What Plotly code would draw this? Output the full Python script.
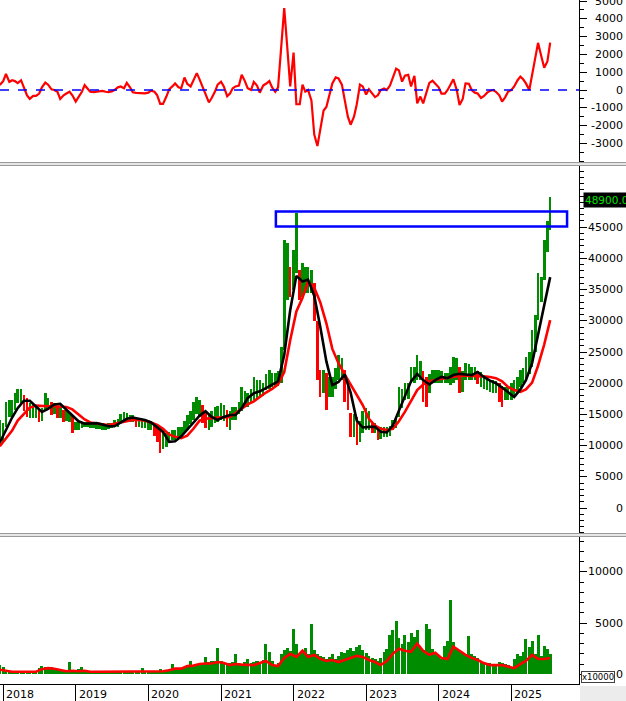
import pandas as pd
import plotly.graph_objects as go

# ---------------- data ----------------
dates = pd.date_range("2017-12-15", "2025-07-15", freq="SMS")   # semi-monthly samples
ma_dates = dates[::2]                                             # monthly samples

price_high = [
    14100, 13600, 17000, 17300, 17300, 18400, 19100, 19000, 18100, 17600,
    16800, 16800, 16300, 15700, 16000, 18400, 17600, 17000, 16800, 16200,
    16200, 15700, 15700, 15200, 14900, 13800, 13800, 13800, 13800, 13800,
    13800, 13600, 13600, 13600, 13600, 13400, 13600, 13600, 14100, 14300,
    15000, 15400, 15200, 14900, 14900, 14400, 14300, 14100, 14100, 13800,
    13800, 13600, 13000, 12500, 12000, 12000, 12200, 12500, 12500, 13000,
    13000, 14000, 14900, 15500, 17000, 17800, 17300, 16500, 15200, 15000,
    15500, 16200, 16300, 16800, 16500, 15700, 15500, 16200, 16200, 17000,
    19400, 18800, 18400, 19000, 21000, 20500, 20500, 20000, 21500, 22100,
    21600, 21600, 22000, 25800, 43000, 42500, 38600, 41400, 47300, 38200,
    39300, 38600, 38600, 38200, 36000, 30000, 22100, 22100, 21600, 21000,
    21000, 22500, 24500, 24000, 22100, 20000, 15200, 15000, 14600, 14000,
    15500, 16000, 15500, 13600, 13600, 13000, 13000, 13000, 13000, 13200,
    14100, 14500, 19400, 19000, 20000, 20000, 22600, 22600, 24500, 23500,
    22000, 21000, 21500, 22100, 22100, 22100, 22000, 21600, 21600, 22600,
    24200, 24000, 22600, 22000, 23200, 23000, 22600, 22600, 22000, 21800,
    21000, 21000, 20500, 20500, 20300, 20000, 19500, 19400, 19400, 20000,
    20500, 21000, 22100, 22500, 24200, 25000, 28500, 31000, 37700, 37000,
    43000, 46000, 49900,
]
price_low = [
    10100, 10400, 13000, 14600, 14600, 15700, 16800, 16800, 15500, 14600,
    14500, 14400, 14400, 13800, 14000, 15700, 15700, 14900, 15000, 14400,
    14400, 13800, 13900, 13800, 12000, 12500, 12500, 12800, 13000, 13000,
    12800, 12800, 12600, 12600, 12500, 12500, 12600, 12800, 13000, 13000,
    13800, 14000, 13800, 13800, 13800, 13000, 13000, 12800, 12800, 12500,
    12500, 11500, 10500, 8800, 9500, 9800, 10500, 10900, 10900, 11400,
    11400, 12000, 12500, 13500, 14100, 15000, 14600, 13600, 12800, 12500,
    13000, 13600, 13800, 14100, 14000, 13000, 12500, 14100, 14100, 15000,
    15500, 16200, 16200, 16800, 17300, 17500, 17800, 18000, 18900, 19000,
    19400, 19500, 19600, 20000, 25300, 33300, 33800, 34900, 37700, 33300,
    33800, 34500, 34500, 34500, 30000, 20500, 17800, 18400, 15700, 17800,
    17800, 19000, 20500, 20500, 17000, 15700, 11400, 11400, 10100, 10500,
    12000, 12500, 12500, 12000, 12000, 10900, 11000, 11400, 11400, 11600,
    12500, 12800, 14600, 16000, 17300, 17500, 20000, 20000, 20500, 20500,
    17000, 16200, 18500, 20000, 20000, 20000, 20000, 20000, 20000, 19700,
    20000, 20500, 18400, 18600, 20500, 20500, 20500, 20500, 19800, 19400,
    19000, 18900, 18600, 18400, 18400, 17000, 16200, 17300, 17300, 17300,
    17800, 18500, 19400, 20000, 20500, 21500, 22600, 25000, 30100, 33000,
    36500, 41000, 44500,
]
ma_fast = [  # black line
    10500, 12500, 14500, 16000, 17200, 17200, 16200, 15400, 15900, 16600,
    16700, 15800, 14800, 13900, 13500, 13500, 13600, 13400, 13100, 13100,
    13700, 14300, 14500, 14300, 14100, 13700, 13000, 12200, 10600, 10700,
    11500, 12600, 13600, 14800, 15500, 14600, 14100, 14600, 14900, 14900,
    16000, 17600, 18400, 18700, 19200, 19700, 20300, 24500, 31700, 37200,
    36300, 36600, 34000, 29100, 23500, 19700, 20200, 21400, 18500, 14000,
    12900, 13000, 13000, 12200, 12100, 13200, 15500, 18000, 20300, 21500,
    20500, 19800, 20500, 21000, 20800, 21300, 21500, 21400, 21300, 21800,
    21000, 20400, 20000, 19300, 18600, 17800, 19000, 20500, 23200, 27500,
    32500, 37000,
]
ma_slow = [  # red line
    9900, 11200, 12400, 14000, 15000, 16100, 16400, 16300, 16300, 16300,
    16300, 16200, 15800, 15000, 14200, 13700, 13500, 13400, 13300, 13500,
    13700, 14000, 14100, 14100, 14000, 13700, 13300, 12700, 11800, 11400,
    11200, 11600, 12700, 14000, 14300, 14400, 14500, 14500, 14600, 15200,
    15900, 16600, 17100, 17800, 18500, 19100, 19800, 21800, 26900, 31500,
    33700, 36300, 35300, 33000, 29600, 25500, 23200, 21400, 19800, 18200,
    16500, 14300, 13200, 12700, 12500, 12700, 13900, 15400, 17100, 18900,
    19800, 20300, 20500, 20700, 20900, 21000, 21200, 21200, 21200, 21200,
    21100, 21000, 20800, 20300, 19400, 18900, 18600, 19000, 20100, 22800,
    26200, 30100,
]
oscillator = [
    280, 500, 900, 450, 550, 500, 390, 550, 150, -300,
    -500, -330, -330, -200, 150, 420, 300, 40, 0, -100,
    -500, -300, -200, -100, -300, -650, -400, -100, 270, 50,
    -100, -120, -100, -60, -50, -100, -120, -80, 0, 150,
    200, 100, 400, 150, -130, -160, -180, -200, -190, -150,
    -40, -100, -300, -780, -780, -370, 40, 200, 370, 150,
    100, 700, 350, 200, 500, 950, 600, 150, -300, -700,
    -450, -100, 300, 470, 200, -350, -200, 100, 200, 250,
    850, 500, 100, 0, 450, 250, -150, 250, 350, 500,
    150, -100, 150, 2800, 4600, 2300, 200, 2100, -800, -800,
    300, -90, 0, -600, -2500, -3150, -2340, -1150, -950, -300,
    370, 710, 650, 300, -600, -1500, -1950, -1500, -800, 300,
    200, -250, 40, -200, -400, -300, 0, 90, 0, 250,
    700, 1200, 1100, 470, 800, 850, 200, 790, -750, -370,
    -750, -100, 400, 520, 350, 150, -200, -200, 0, 300,
    600, 0, -840, -500, 370, 350, 0, -150, -200, -450,
    -350, -150, -50, 0, -100, -300, -650, -400, -100, 0,
    200, 550, 750, 600, 370, 0, 900, 1700, 2650, 1870,
    1250, 1600, 2660,
]
volume = [  # x10000
    900, 700, 400, 300, 250, 250, 250, 250, 250, 250,
    250, 250, 250, 600, 800, 700, 650, 700, 600, 500,
    350, 300, 300, 1230, 350, 300, 500, 740, 400, 350,
    300, 250, 250, 250, 250, 250, 250, 250, 250, 250,
    250, 250, 250, 250, 250, 250, 250, 650, 250, 250,
    250, 250, 250, 500, 350, 400, 500, 1000, 500, 600,
    500, 700, 800, 1300, 900, 1000, 1100, 1000, 1700, 1200,
    1300, 1300, 2600, 1300, 1100, 1000, 1100, 1200, 2000, 1100,
    1000, 1200, 1500, 1100, 1200, 1300, 1000, 1400, 2950, 2200,
    1300, 900, 1100, 2000, 2400, 2600, 2300, 4400, 3000, 2000,
    2300, 2600, 2000, 4900, 2400, 2000, 1800, 1700, 1500, 1700,
    2000, 1500, 1800, 2200, 2100, 2400, 2600, 2300, 2700, 2900,
    2400, 2100, 1800, 1600, 1500, 1300, 1600, 2200, 2500, 3800,
    4300, 5200, 3500, 3000, 3800, 3200, 4000, 3600, 4300, 2600,
    2400, 4900, 4400, 2500, 2000, 1800, 1500, 2800, 3300, 7260,
    3200, 2600, 2300, 2200, 2000, 3700, 2000, 1800, 1600, 1200,
    1000, 900, 1100, 1000, 900, 1200, 1100, 1000, 900, 700,
    1500, 2000, 1800, 2200, 3400, 2700, 3300, 2000, 3800, 1800,
    2800, 2500, 2000,
]
volume_ma = [
    450, 350, 250, 250, 250, 250, 250, 500, 600, 550,
    450, 300, 350, 300, 350, 250, 250, 250, 250, 250,
    250, 250, 250, 250, 250, 250, 250, 300, 400, 550,
    550, 800, 850, 1000, 1050, 1050, 1200, 1100, 900, 1000,
    950, 900, 900, 1100, 1300, 900, 800, 1600, 2000, 1700,
    2300, 1700, 1900, 1500, 1300, 1400, 1200, 1400, 1600, 1800,
    1700, 1400, 1200, 900, 1300, 2000, 2500, 2300, 2200, 3000,
    2300, 1900, 2100, 1600, 1500, 2700, 2300, 1900, 1600, 1400,
    1100, 900, 900, 900, 750, 600, 1000, 1300, 1900, 1500,
    1500, 1600,
]
last_price = 48900
zone_start, zone_end = "2021-10-04", "2025-10-08"
zone_low, zone_high = 45100, 47500

years = list(range(2018, 2026))
year_ticks = [f"{y}-01-01" for y in years]
osc_ticks = list(range(5000, -3001, -1000))
price_ticks = list(range(45000, -1, -5000))
vol_ticks = [10000, 5000, 0]

# ---------------- styling ----------------
GREEN = "#008c00"
RED = "#ff0000"
H = 684.0                       # plot-area height in px
def yp(px):                     # pixel row -> paper y
    return 1 - px / H

FONT = dict(family="DejaVu Sans", size=11, color="#000000")
HALF_MONTH_MS = 15.2 * 86400000

mid = [(h + l) / 2 for h, l in zip(price_high, price_low)]
bar_colors = [GREEN] + [RED if mid[i] < mid[i - 1] * 0.97 else GREEN for i in range(1, len(mid))]

fig = go.Figure()
fig.add_trace(go.Scatter(x=dates, y=oscillator, mode="lines",
                         line=dict(color=RED, width=2.2), xaxis="x", yaxis="y"))
fig.add_trace(go.Bar(x=dates, base=price_low,
                     y=[h - l for h, l in zip(price_high, price_low)],
                     width=HALF_MONTH_MS * 0.85,
                     marker=dict(color=bar_colors, line=dict(width=0)),
                     xaxis="x2", yaxis="y2"))
fig.add_trace(go.Scatter(x=ma_dates, y=ma_slow, mode="lines",
                         line=dict(color=RED, width=2.6), xaxis="x2", yaxis="y2"))
fig.add_trace(go.Scatter(x=ma_dates, y=ma_fast, mode="lines",
                         line=dict(color="#000000", width=2.6), xaxis="x2", yaxis="y2"))
fig.add_trace(go.Bar(x=dates, y=volume, width=HALF_MONTH_MS,
                     marker=dict(color=GREEN, line=dict(width=0)),
                     xaxis="x3", yaxis="y3"))
fig.add_trace(go.Scatter(x=ma_dates, y=volume_ma, mode="lines",
                         line=dict(color=RED, width=2.6), xaxis="x3", yaxis="y3"))

xr = ["2017-12-16", "2025-12-07"]
xcommon = dict(type="date", range=xr, domain=[0, 1], showgrid=False, zeroline=False,
               showticklabels=False, ticks="", showline=False)
ycommon = dict(side="right", showgrid=False, zeroline=False, showline=True,
               linecolor="#000000", linewidth=1, ticks="outside", ticklen=7,
               tickcolor="#000000", showticklabels=False, tickmode="array")

dom_top = [yp(162), 1]
dom_mid = [yp(534), yp(166)]
dom_bot = [0, yp(537)]

fig.update_layout(
    width=626, height=701,
    margin=dict(l=0, r=47, t=0, b=17),
    paper_bgcolor="white", plot_bgcolor="white",
    showlegend=False, barmode="overlay", bargap=0,
    xaxis=dict(**xcommon, anchor="y"),
    xaxis2=dict(**xcommon, anchor="y2", matches="x"),
    xaxis3=dict(type="date", range=xr, domain=[0, 1], anchor="y3", matches="x",
                showgrid=False, zeroline=False, showticklabels=False,
                showline=True, linecolor="#000000", linewidth=1,
                ticks="outside", ticklen=17, tickcolor="#000000", tickwidth=1,
                tickmode="array", tickvals=year_ticks),
    yaxis=dict(**ycommon, domain=dom_top, range=[-4045, 5056], anchor="x",
               tickvals=osc_ticks,
               minor=dict(tickmode="linear", tick0=0, dtick=500, ticks="outside",
                          ticklen=4, tickcolor="#000000")),
    yaxis2=dict(**ycommon, domain=dom_mid, range=[-4167, 54810], anchor="x2",
                tickvals=price_ticks,
                minor=dict(tickmode="linear", tick0=0, dtick=1000, ticks="outside",
                           ticklen=4, tickcolor="#000000")),
    yaxis3=dict(**ycommon, domain=dom_bot, range=[-947, 13409], anchor="x3",
                tickvals=vol_ticks,
                minor=dict(tickmode="linear", tick0=0, dtick=1000, ticks="outside",
                           ticklen=4, tickcolor="#000000")),
)

shapes = []
# zero line of the oscillator
shapes.append(dict(type="line", xref="paper", x0=0, x1=1, yref="y", y0=0, y1=0,
                   line=dict(color="#0000ff", width=1.5, dash="dash")))
# highlighted price zone
shapes.append(dict(type="rect", xref="x2", yref="y2", x0=zone_start, x1=zone_end,
                   y0=zone_low, y1=zone_high, line=dict(color="#0000ff", width=2.5),
                   fillcolor="rgba(0,0,0,0)"))
# panel separators
for top_px in (162, 533):
    shapes.append(dict(type="rect", xref="paper", yref="paper", x0=0, x1=1.1,
                       y0=yp(top_px + 4), y1=yp(top_px), fillcolor="#e6e6e6",
                       line=dict(width=0), layer="above"))
    for off in (0.5, 3.5):
        shapes.append(dict(type="line", xref="paper", yref="paper", x0=0, x1=1.1,
                           y0=yp(top_px + off), y1=yp(top_px + off),
                           line=dict(color="#9a9a9a", width=1), layer="above"))
# grey corner under the axis
shapes.append(dict(type="rect", xref="paper", yref="paper", x0=580 / 579, x1=1.1,
                   y0=-0.03, y1=yp(686), fillcolor="#ececec", line=dict(width=0)))
fig.update_layout(shapes=shapes)

ann = []
def ylab(v, yref):
    return dict(x=1, xref="paper", xanchor="right", xshift=46, y=v, yref=yref,
                yanchor="middle", text=str(v), showarrow=False, font=FONT)
ann += [ylab(v, "y") for v in osc_ticks]
ann += [ylab(v, "y2") for v in price_ticks]
ann += [ylab(v, "y3") for v in vol_ticks]
for d, y in zip(year_ticks, years):
    ann.append(dict(x=d, xref="x3", xanchor="left", xshift=1, y=0, yref="paper",
                    yanchor="top", yshift=-2, text=str(y), showarrow=False, font=FONT))
ann.append(dict(x=1, xref="paper", xanchor="left", xshift=4, y=last_price, yref="y2",
                yanchor="middle", yshift=3, text=f"{last_price:.2f}", showarrow=False,
                bgcolor="#000000", borderpad=1,
                font=dict(family="DejaVu Sans", size=10.5, color="#00e000")))
ann.append(dict(x=1, xref="paper", xanchor="left", xshift=2, y=0, yref="paper",
                yanchor="bottom", yshift=1, text="x10000", showarrow=False,
                bgcolor="white", bordercolor="#404040", borderwidth=1, borderpad=0,
                font=dict(family="DejaVu Sans", size=8.5, color="#000000")))
fig.update_layout(annotations=ann)

fig.write_html("out.html", config={"displayModeBar": False},
               post_script="document.body.style.margin='0';document.body.style.overflow='hidden';")
